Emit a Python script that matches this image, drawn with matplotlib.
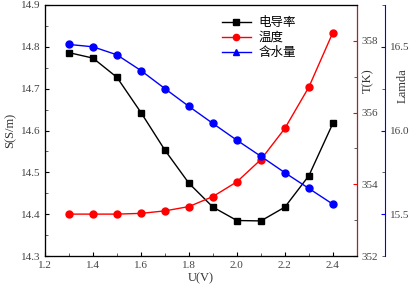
import matplotlib
matplotlib.use('Agg')
import matplotlib.pyplot as plt
from matplotlib.lines import Line2D
from matplotlib.ticker import MultipleLocator

plt.rcParams['font.family'] = ['Liberation Serif', 'Noto Sans CJK SC']
plt.rcParams['font.size'] = 8

# 数据
voltage = [1.3, 1.4, 1.5, 1.6, 1.7, 1.8, 1.9, 2.0, 2.1, 2.2, 2.3, 2.4]
conductivity = [14.786, 14.773, 14.727, 14.643, 14.553, 14.474,
                14.417, 14.385, 14.384, 14.417, 14.492, 14.617]
temperature = [353.17, 353.17, 353.17, 353.19, 353.26, 353.38,
               353.66, 354.07, 354.69, 355.56, 356.71, 358.23]
moisture = [16.514, 16.500, 16.452, 16.358, 16.250, 16.144,
            16.042, 15.942, 15.846, 15.748, 15.654, 15.560]
labels = ['电导率', '温度', '含水量']

fig = plt.figure(figsize=(4.13, 2.91), dpi=100)
ax = fig.add_axes([0.109, 0.120, 0.755, 0.863])
ax_t = ax.twinx()
ax_l = ax.twinx()
ax_l.spines['right'].set_position(('outward', 20.4))

ax.plot(voltage, conductivity, color='black', marker='s', ms=4.5, lw=1)
ax_t.plot(voltage, temperature, color='red', marker='o', ms=5, lw=1)
ax_l.plot(voltage, moisture, color='blue', marker='o', ms=5, lw=1)

ax.set_xlim(1.2, 2.5)
ax.set_ylim(14.3, 14.9)
ax_t.set_ylim(352, 359)
ax_l.set_ylim(15.25, 16.75)

ax.set_xticks([1.2, 1.4, 1.6, 1.8, 2.0, 2.2, 2.4])
ax.xaxis.set_minor_locator(MultipleLocator(0.1))
ax.yaxis.set_major_locator(MultipleLocator(0.1))
ax.yaxis.set_minor_locator(MultipleLocator(0.05))
ax_t.yaxis.set_major_locator(MultipleLocator(2))
ax_t.yaxis.set_minor_locator(MultipleLocator(1))
ax_l.yaxis.set_major_locator(MultipleLocator(0.5))
ax_l.yaxis.set_minor_locator(MultipleLocator(0.25))
ax_l.set_yticks([15.5, 16.0, 16.5])

for a in (ax, ax_t, ax_l):
    a.tick_params(which='both', direction='in', labelsize=8, colors='#444444')
    a.tick_params(which='major', length=3)
    a.tick_params(which='minor', length=2)

ax.tick_params(axis='both', colors='black', labelcolor='#444444')
ax_t.spines['right'].set_color('red')
ax_t.tick_params(axis='y', colors='red', labelcolor='#444444')
ax_l.spines['right'].set_color('blue')
ax_l.tick_params(axis='y', colors='blue', labelcolor='#444444')
ax_l.yaxis.set_major_formatter(plt.FormatStrFormatter('%.1f'))
ax.yaxis.set_major_formatter(plt.FormatStrFormatter('%.1f'))
ax.xaxis.set_major_formatter(plt.FormatStrFormatter('%.1f'))

ax.set_xlabel('U(V)', fontsize=9, color='#333333', labelpad=2)
ax.set_ylabel('S(S/m)', fontsize=9, color='#333333', labelpad=3)
ax_t.set_ylabel('T(K)', fontsize=9, color='#333333', rotation=90,
                ha='center', va='center')
ax_l.set_ylabel('Lamda', fontsize=9, color='#333333', rotation=90,
                ha='center', va='center')
ax_t.yaxis.set_label_coords(1.035, 0.70)
ax_l.yaxis.set_label_coords(1.147, 0.68)

handles = [Line2D([], [], color='black', marker='s', ms=4, lw=1),
           Line2D([], [], color='red', marker='o', ms=4.5, lw=1),
           Line2D([], [], color='blue', marker='^', ms=4.5, lw=1)]
ax.legend(handles, labels, loc='upper right', bbox_to_anchor=(0.84, 1.0),
          frameon=False, fontsize=9, handlelength=2.3, handletextpad=0.6,
          labelspacing=0.15, prop={'family': ['Noto Sans CJK SC'], 'size': 9})

fig.savefig('out.png', dpi=100)
